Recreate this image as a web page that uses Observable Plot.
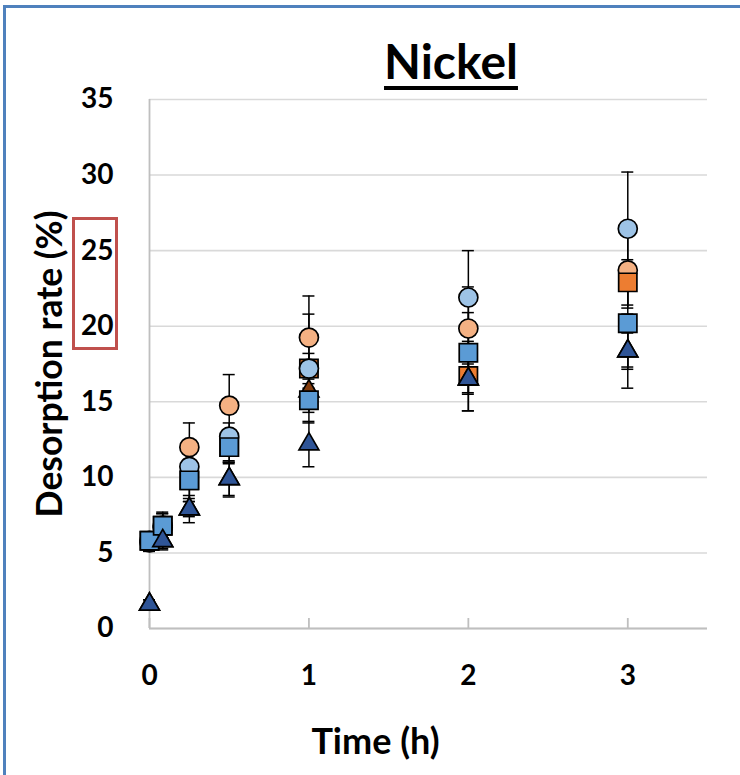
<!DOCTYPE html>
<html>
<head>
<meta charset="utf-8">
<script src="https://cdn.jsdelivr.net/npm/d3@7"></script>
<script src="https://cdn.jsdelivr.net/npm/@observablehq/plot@0.6"></script>
<style>
  html, body { margin: 0; padding: 0; background: #fff; }
  #wrap { position: relative; width: 740px; height: 775px; overflow: hidden; font-family: Lato, "Open Sans", sans-serif; }
  #chart { position: absolute; left: 0; top: 0; }
  #title { position: absolute; left: 301px; width: 300px; top: 37px; text-align: center; font-size: 48px; line-height: 48px; font-weight: 700; color: #000;
           text-decoration: underline; text-decoration-thickness: 4px; text-underline-offset: 7px; }
  .frameL { position: absolute; left: 3px; top: 5px; width: 3px; height: 770px; background: #4F81BD; }
  .frameT { position: absolute; left: 3px; top: 5px; width: 737px; height: 3px; background: #4F81BD; }
  #hl { position: absolute; left: 72px; top: 217px; width: 46px; height: 133px; box-sizing: border-box; border: 3px solid #C0504D; }
</style>
</head>
<body>
<div id="wrap">
  <div class="frameL"></div>
  <div class="frameT"></div>
  <div id="chart"></div>
  <div id="title">Nickel</div>
  <div id="hl"></div>
</div>
<script>
// ---- data ----
const times = [0, 0.083, 0.25, 0.5, 1, 2, 3];
const xTicks = [0, 1, 2, 3];
const yTicks = [0, 5, 10, 15, 20, 25, 30, 35];
const xLabel = "Time (h)";
const yLabel = "Desorption rate (%)";

const peachCircle       = [5.7, 6.7, 12.0, 14.75, 19.25, 19.85, 23.7];
const peachCircleErr    = [0.6, 0.7, 1.6, 2.05, 2.75, 2.75, 2.5];
const orangeSquare      = [5.8, 6.8, 9.8, 12.0, 17.2, 16.7, 22.9];
const orangeSquareErr   = [0.6, 0.8, 1.4, 1.1, 3.6, 2.3, 1.5];
const brownTriangle     = [1.6, 5.8, 7.9, 9.9, 15.7, 16.5, 18.35];
const brownTriangleErr  = [0.3, 0.5, 0.5, 1.2, 1.0, 1.0, 1.2];
const lightBlueCircle   = [5.8, 6.8, 10.7, 12.7, 17.2, 21.9, 26.45];
const lightBlueCircleErr= [0.6, 0.8, 1.0, 0.9, 1.0, 3.1, 3.75];
const blueSquare        = [5.8, 6.8, 9.8, 12.0, 15.1, 18.25, 20.2];
const blueSquareErr     = [0.6, 0.9, 1.2, 1.0, 0.8, 2.65, 2.9];
const darkTriangle      = [1.6, 5.8, 7.9, 9.9, 12.2, 16.5, 18.35];
const darkTriangleErr   = [0.3, 0.6, 0.9, 1.1, 1.5, 2.1, 2.45];

// drawing order (later on top)
const seriesList = [
  {name: "Peach circle",     values: peachCircle,     errors: peachCircleErr,     symbol: "circle",   fill: "#F4B183", r: 9.5},
  {name: "Orange square",    values: orangeSquare,    errors: orangeSquareErr,    symbol: "square",   fill: "#ED7D31", r: 10.3},
  {name: "Brown triangle",   values: brownTriangle,   errors: brownTriangleErr,   symbol: "triangle", fill: "#843C0C", r: 7.4},
  {name: "Light blue circle",values: lightBlueCircle, errors: lightBlueCircleErr, symbol: "circle",   fill: "#9DC3E6", r: 9.5},
  {name: "Blue square",      values: blueSquare,      errors: blueSquareErr,      symbol: "square",   fill: "#5B9BD5", r: 10.3},
  {name: "Dark blue triangle",values: darkTriangle,   errors: darkTriangleErr,    symbol: "triangle", fill: "#2F5597", r: 7.4}
];

const rows = seriesList.flatMap(s => times.map((t, i) => ({series: s.name, t, v: s.values[i], e: s.errors[i]})));

const dotMarks = seriesList.map(s =>
  Plot.dot(rows.filter(d => d.series === s.name), {
    x: "t", y: "v", symbol: s.symbol, r: s.r, fill: s.fill, stroke: "#000", strokeWidth: 1.7
  })
);

const plot = Plot.plot({
  width: 740,
  height: 775,
  marginLeft: 149,
  marginRight: 33,
  marginTop: 99,
  marginBottom: 147,
  style: {fontFamily: "Lato, 'Open Sans', sans-serif", fontSize: "28px", fontWeight: "bold", color: "#000", background: "transparent", overflow: "visible"},
  x: {domain: [0, 3.5]},
  y: {domain: [0, 35]},
  marks: [
    Plot.gridY(yTicks, {stroke: "#d9d9d9", strokeOpacity: 1, strokeWidth: 1.6}),
    Plot.ruleY([0], {stroke: "#bfbfbf", strokeWidth: 1.8}),
    Plot.ruleX([0], {stroke: "#bfbfbf", strokeWidth: 1.8}),
    Plot.ruleX(xTicks, {x: d => d, y1: 0, y2: 0, insetTop: -10, stroke: "#bfbfbf", strokeWidth: 1.8}),
    Plot.axisY({ticks: yTicks, tickSize: 0, tickPadding: 36, fontSize: 28, fontWeight: "bold", label: null}),
    Plot.axisX({ticks: xTicks, tickFormat: d3.format("d"), tickSize: 0, tickPadding: 37, fontSize: 28, fontWeight: "bold", label: null}),
    Plot.text([yLabel], {text: d => d, frameAnchor: "left", dx: -99, rotate: -90, lineAnchor: "middle", textAnchor: "middle",
                         fontSize: 35.5, fontWeight: "bold", fill: "#000"}),
    Plot.text([xLabel], {text: d => d, frameAnchor: "bottom", dx: -53, dy: 114, lineAnchor: "middle", textAnchor: "middle",
                         fontSize: 36, fontWeight: "bold", fill: "#000"}),
    // error bars
    Plot.ruleX(rows, {x: "t", y1: d => d.v - d.e, y2: d => d.v + d.e, stroke: "#000", strokeWidth: 1.5}),
    Plot.ruleY(rows, {y: d => d.v - d.e, x1: "t", x2: "t", insetLeft: -6, insetRight: -6, stroke: "#000", strokeWidth: 1.5}),
    Plot.ruleY(rows, {y: d => d.v + d.e, x1: "t", x2: "t", insetLeft: -6, insetRight: -6, stroke: "#000", strokeWidth: 1.5}),
    ...dotMarks
  ]
});
document.getElementById("chart").appendChild(plot);
</script>
</body>
</html>
